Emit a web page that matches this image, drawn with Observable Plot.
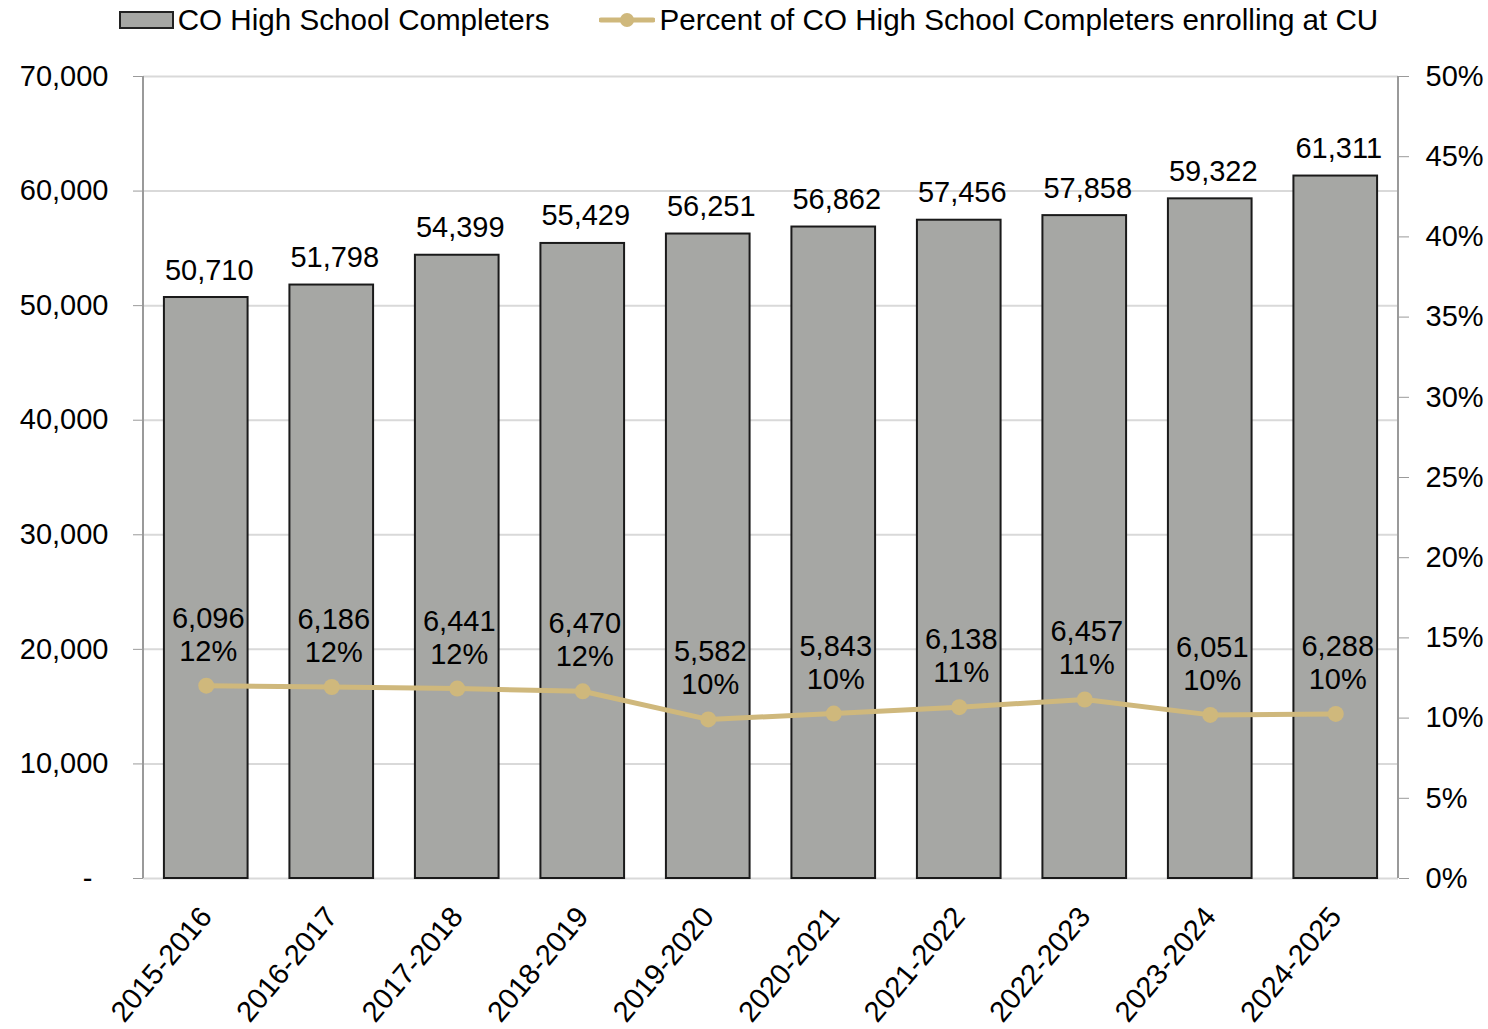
<!DOCTYPE html>
<html>
<head>
<meta charset="utf-8">
<script src="https://cdn.jsdelivr.net/npm/d3@7"></script>
<script src="https://cdn.jsdelivr.net/npm/@observablehq/plot@0.6"></script>
<style>
  body { margin: 0; background: #fff; font-family: "Liberation Sans", Arial, sans-serif; }
  #legend { height: 40px; display: flex; justify-content: center; align-items: center; gap: 50px; font-size: 29.6px; color: #000; white-space: nowrap; padding-left: 9px; }
  #legend .item { display: flex; align-items: center; gap: 4px; }
  #legend .bar { width: 51px; height: 14px; background: #a6a7a4; border: 2px solid #222; }
</style>
</head>
<body>
<div id="legend">
  <div class="item"><span class="bar"></span><span>CO High School Completers</span></div>
  <div class="item"><svg width="56" height="20"><line x1="2" x2="54" y1="10" y2="10" stroke="#cfb87c" stroke-width="5" stroke-linecap="round"/><circle cx="28" cy="10" r="7" fill="#cfb87c"/></svg><span>Percent of CO High School Completers enrolling at CU</span></div>
</div>
<div id="chart"></div>
<script>
const years = ["2015-2016","2016-2017","2017-2018","2018-2019","2019-2020","2020-2021","2021-2022","2022-2023","2023-2024","2024-2025"];
const completers = [50710, 51798, 54399, 55429, 56251, 56862, 57456, 57858, 59322, 61311];
const enrolled = [6096, 6186, 6441, 6470, 5582, 5843, 6138, 6457, 6051, 6288];
const pctEnrolled = [0.1202, 0.1194, 0.1184, 0.1167, 0.0992, 0.1028, 0.1068, 0.1116, 0.1020, 0.1026];
const pctLabels = ["12%","12%","12%","12%","10%","10%","11%","11%","10%","10%"];
const leftTicks = [0, 10000, 20000, 30000, 40000, 50000, 60000, 70000];
const rightTicks = [0, 0.05, 0.10, 0.15, 0.20, 0.25, 0.30, 0.35, 0.40, 0.45, 0.50];

const Y_MAX = 70000, PCT_MAX = 0.5, k = Y_MAX / PCT_MAX;
const fmt = d3.format(",");
const data = years.map((year, i) => ({year, completers: completers[i], enrolled: enrolled[i], pct: pctEnrolled[i], pctLabel: pctLabels[i]}));

const axisLines = (index, scales, values, dims) => {
  const g = document.createElementNS("http://www.w3.org/2000/svg", "g");
  const top = dims.marginTop, bottom = dims.height - dims.marginBottom;
  for (const x of [dims.marginLeft, dims.width - dims.marginRight]) {
    const l = document.createElementNS("http://www.w3.org/2000/svg", "line");
    l.setAttribute("x1", x); l.setAttribute("x2", x);
    l.setAttribute("y1", top); l.setAttribute("y2", bottom);
    l.setAttribute("stroke", "#9a9a9a"); l.setAttribute("stroke-width", 2);
    g.appendChild(l);
  }
  return g;
};

const chart = Plot.plot({
  width: 1488,
  height: 989,
  marginTop: 36,
  marginBottom: 151,
  marginLeft: 143,
  marginRight: 90,
  style: {fontFamily: "'Liberation Sans', Arial, sans-serif", fontSize: "29px", color: "#000", background: "#fff", overflow: "visible"},
  x: {domain: years, paddingInner: 1/3, paddingOuter: 1/6, round: false, label: null},
  y: {domain: [0, Y_MAX], label: null},
  marks: [
    Plot.ruleY(leftTicks, {stroke: "#d9d9d9", strokeWidth: 2}),
    Plot.barY(data, {x: "year", y: "completers", fill: "#a6a7a4", stroke: "#1a1a1a", strokeWidth: 2}),
    Plot.text(data, {x: "year", y: "completers", text: d => fmt(d.completers), lineAnchor: "bottom", dy: -18, dx: 3}),
    Plot.line(data, {x: "year", y: d => d.pct * k, stroke: "#cfb87c", strokeWidth: 5}),
    Plot.dot(data, {x: "year", y: d => d.pct * k, r: 8, fill: "#cfb87c"}),
    Plot.text(data, {x: "year", y: d => d.pct * k, text: d => `${fmt(d.enrolled)}\n${d.pctLabel}`, lineAnchor: "bottom", lineHeight: 1.14, dy: -25, dx: 2}),
    axisLines,
    Plot.axisY(leftTicks, {anchor: "left", tickFormat: d => d === 0 ? "-\u2007" : fmt(d), tickSize: 10, tickPadding: 25, stroke: "#9a9a9a", label: null}),
    Plot.axisY(rightTicks.map(p => p * k), {anchor: "right", tickFormat: d => Math.round(d / k * 100) + "%", tickSize: 10, tickPadding: 17, stroke: "#9a9a9a", label: null}),
    Plot.axisX({tickRotate: -50, tickSize: 0, tickPadding: 33, dx: 0, label: null})
  ]
});
document.getElementById("chart").appendChild(chart);
</script>
</body>
</html>
